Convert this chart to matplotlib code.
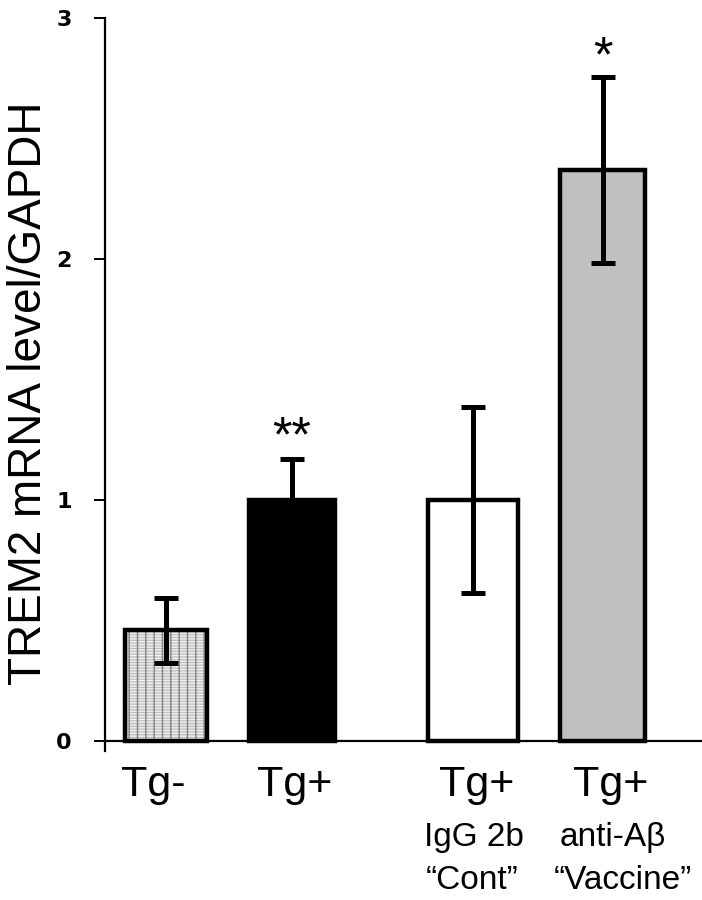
import matplotlib
matplotlib.use("Agg")
import matplotlib.pyplot as plt

# ---------------------------------------------------------------------------
# Data
# ---------------------------------------------------------------------------
groups = ["Tg-", "Tg+", "Tg+", "Tg+"]
sub_line1 = ["", "", "IgG 2b", "anti-A\u03b2"]
sub_line2 = ["", "", "\u201cCont\u201d", "\u201cVaccine\u201d"]
means = [0.46, 1.00, 1.00, 2.37]
errors = [0.135, 0.17, 0.385, 0.385]
stars = ["", "**", "", "*"]
star_y = [None, 1.20, None, 2.78]

# layout (data units on x)
bar_x = [0.61, 1.88, 3.70, 5.00]
bar_w = [0.82, 0.87, 0.90, 0.86]
label_x = [0.48, 1.91, 3.74, 5.08]
sub1_x = [None, None, 3.71, 5.10]
sub2_x = [None, None, 3.69, 5.20]
fills = ["#eeeeee", "black", "white", "#c0c0c0"]

plt.rcParams["font.family"] = ["Liberation Sans", "DejaVu Sans"]

fig = plt.figure(figsize=(7.02, 9.0), dpi=100)
ax = fig.add_axes([0.1496, 0.166, 0.8504, 0.814])

# hatched first bar: fine horizontal dashes + dotted vertical stripes
ax.bar(bar_x[0], means[0], width=bar_w[0], color="#f2f2f2",
       edgecolor="#c0c0c0", linewidth=0, hatch="------", zorder=1)
ax.bar(bar_x[0], means[0], width=bar_w[0], color="none",
       edgecolor="#808080", linewidth=0, hatch="||", zorder=1)

for i in range(len(means)):
    fc = "none" if i == 0 else fills[i]
    ax.bar(bar_x[i], means[i], width=bar_w[i], color=fc,
           edgecolor="black", linewidth=3.2, zorder=2)
    ax.errorbar(bar_x[i], means[i], yerr=errors[i], fmt="none",
                ecolor="black", elinewidth=3.6, capsize=8.5, capthick=3.6,
                zorder=3)
    if stars[i]:
        ax.text(bar_x[i], star_y[i], stars[i], ha="center", va="baseline",
                fontsize=36, zorder=4)

    # category labels below the axis
    ax.text(label_x[i], -0.23, groups[i], ha="center", va="baseline",
            fontsize=31, clip_on=False)
    if sub_line1[i]:
        ax.text(sub1_x[i], -0.435, sub_line1[i], ha="center", va="baseline",
                fontsize=24, clip_on=False)
        ax.text(sub2_x[i], -0.615, sub_line2[i], ha="center", va="baseline",
                fontsize=24, clip_on=False)

ax.axhline(0, color="black", linewidth=1.6, zorder=5)

ax.set_xlim(0, 6.0)
ax.set_ylim(-0.04, 3)
ax.set_yticks([0, 1, 2, 3])
ax.set_yticklabels(["0", "1", "2", "3"], fontweight="bold",
                   fontfamily="DejaVu Sans", fontsize=16)
ax.tick_params(axis="y", direction="out", length=8, width=1.4, pad=16)
ax.set_xticks([])

for side in ["top", "right", "bottom"]:
    ax.spines[side].set_visible(False)
ax.spines["left"].set_linewidth(1.6)

fig.text(29 / 702, 0.563, "TREM2 mRNA level/GAPDH", rotation=90,
         ha="center", va="center", fontsize=33)

fig.savefig("out.png", dpi=100)
